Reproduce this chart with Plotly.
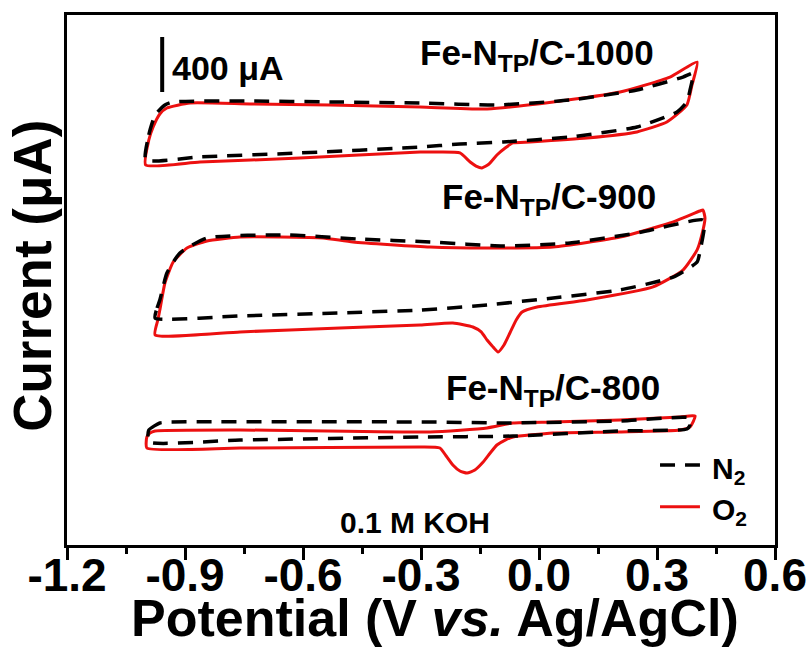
import plotly.graph_objects as go

# ---- data: potential (V vs Ag/AgCl) and offset current (uA) ----
v1000_o2 = [-1.0, -0.992, -0.981, -0.964, -0.946, -0.887, -0.735, -0.531, -0.302, -0.132, 0.036, 0.206, 0.333, 0.402,
            0.389, 0.376, 0.325, 0.249, 0.122, -0.023, -0.066, -0.086, -0.107, -0.127, -0.145, -0.160, -0.175, -0.201,
            -0.252, -0.302, -0.608, -0.862, -1.0]
i1000_o2 = [2763, 2944, 3039, 3133, 3177, 3213, 3206, 3199, 3184, 3170, 3221, 3293, 3402, 3511,
            3344, 3199, 3075, 3003, 2959, 2930, 2923, 2886, 2835, 2770, 2741, 2755, 2784, 2850,
            2857, 2857, 2813, 2784, 2763]
v1000_n2 = [-1.0, -0.992, -0.976, -0.951, -0.930, -0.735, -0.531, -0.302, -0.107, 0.079, 0.249, 0.366, 0.392,
            0.384, 0.376, 0.351, 0.249, 0.079, -0.091, -0.201, -0.302, -0.608, -0.862, -1.0]
i1000_n2 = [2799, 2981, 3126, 3199, 3221, 3228, 3221, 3213, 3199, 3235, 3308, 3402, 3431,
            3308, 3221, 3148, 3039, 2966, 2930, 2915, 2893, 2850, 2821, 2799]

v900_o2 = [-0.976, -0.969, -0.964, -0.951, -0.930, -0.895, -0.844, -0.760, -0.658, -0.549, -0.473, -0.277, -0.132,
           0.036, 0.206, 0.333, 0.409, 0.417, 0.422, 0.414, 0.402, 0.366, 0.290, 0.122, -0.005, -0.043, -0.058,
           -0.074, -0.089, -0.104, -0.119, -0.132, -0.147, -0.168, -0.219, -0.302, -0.506, -0.760, -0.976]
i900_o2 = [1527, 1636, 1708, 1905, 2057, 2159, 2210, 2239, 2239, 2232, 2203, 2166, 2159,
           2166, 2239, 2341, 2428, 2435, 2377, 2254, 2145, 1999, 1876, 1781, 1730, 1694, 1636,
           1541, 1454, 1403, 1447, 1490, 1549, 1585, 1614, 1599, 1578, 1549, 1527]
v900_n2 = [-0.976, -0.971, -0.964, -0.946, -0.913, -0.844, -0.641, -0.463, -0.277, -0.091, 0.079, 0.249, 0.417,
           0.420, 0.417, 0.410, 0.402, 0.341, 0.206, 0.036, -0.132, -0.302, -0.506, -0.760, -0.976]
i900_n2 = [1650, 1723, 1781, 1977, 2123, 2232, 2254, 2225, 2203, 2174, 2196, 2268, 2363,
           2305, 2246, 2145, 2057, 1948, 1854, 1796, 1745, 1708, 1687, 1665, 1650]

v800_o2 = [-0.997, -0.997, -0.989, -0.976, -0.760, -0.277, -0.132, -0.066, 0.036, 0.206, 0.359, 0.397,
           0.384, 0.359, 0.206, 0.036, -0.066, -0.086, -0.107, -0.124, -0.142, -0.163, -0.183, -0.201,
           -0.219, -0.236, -0.252, -0.302, -0.760, -0.997]
i800_o2 = [705, 785, 814, 829, 836, 822, 851, 887, 894, 909, 931, 938,
           858, 836, 822, 814, 785, 763, 727, 669, 603, 545, 523, 538,
           582, 647, 705, 712, 705, 705]
v800_n2 = [-0.992, -0.992, -0.964, -0.938, -0.277, -0.091, 0.206, 0.384, 0.384, 0.376, 0.206, -0.066, -0.302,
           -0.760, -0.992]
i800_n2 = [749, 836, 887, 894, 894, 887, 901, 923, 872, 843, 829, 792, 785, 763, 749]

sample_labels = ["Fe-N<sub>TP</sub>/C-1000", "Fe-N<sub>TP</sub>/C-900", "Fe-N<sub>TP</sub>/C-800"]
legend_labels = ["N<sub>2</sub>", "O<sub>2</sub>"]
x_ticks = [-1.2, -0.9, -0.6, -0.3, 0.0, 0.3, 0.6]
x_ticktext = ["-1.2", "-0.9", "-0.6", "-0.3", "0.0", "0.3", "0.6"]
scale_bar_uA = 400

FONT = "Liberation Sans"
RED = "#ec1010"
N2_DASH = "15px,10px"

fig = go.Figure()
o2_sets = [(v1000_o2, i1000_o2), (v900_o2, i900_o2), (v800_o2, i800_o2)]
n2_sets = [(v1000_n2, i1000_n2), (v900_n2, i900_n2), (v800_n2, i800_n2)]
for v, i in o2_sets:
    fig.add_trace(go.Scatter(x=v, y=i, mode="lines", name="O2", showlegend=False,
                             line=dict(color=RED, width=3, shape="spline", smoothing=0.5)))
for v, i in n2_sets:
    fig.add_trace(go.Scatter(x=v, y=i, mode="lines", name="N2", showlegend=False,
                             line=dict(color="black", width=3.5, dash=N2_DASH, shape="spline", smoothing=0.5)))

# scale bar
bar_x = -0.958
bar_y0 = 3293
fig.add_shape(type="line", x0=bar_x, x1=bar_x, y0=bar_y0, y1=bar_y0 + scale_bar_uA,
              line=dict(color="black", width=4))

def bold(size):
    return dict(family=FONT, size=size, color="black", weight="bold")

# manual legend (line samples + labels)
for (ly, ty), lab, sty in zip([(0.151, 0.140), (0.072, 0.064)], legend_labels,
                              [dict(color="black", width=3.5, dash=N2_DASH), dict(color=RED, width=3)]):
    fig.add_shape(type="line", xref="paper", yref="paper", x0=0.8376, x1=0.894, y0=ly, y1=ly, line=sty)
    fig.add_annotation(text=lab, x=0.908, y=ty, xref="paper", yref="paper", xanchor="left",
                       yanchor="middle", showarrow=False, font=bold(30))

fig.add_annotation(text=f"{scale_bar_uA} μA", x=0.1455, y=0.90, xref="paper", yref="paper",
                   xanchor="left", yanchor="middle", showarrow=False, font=bold(34))
for txt, (xp, yp) in zip(sample_labels, [(0.664, 0.925), (0.681, 0.652), (0.687, 0.293)]):
    fig.add_annotation(text=txt, x=xp, y=yp, xref="paper", yref="paper",
                       xanchor="center", yanchor="middle", showarrow=False, font=bold(35))
fig.add_annotation(text="0.1 M KOH", x=0.4915, y=0.043, xref="paper", yref="paper",
                   xanchor="center", yanchor="middle", showarrow=False, font=bold(30))
# axis titles
fig.add_annotation(text="Potential (V <i>vs.</i> Ag/AgCl)", x=0.520, y=-0.138, xref="paper", yref="paper",
                   xanchor="center", yanchor="middle", showarrow=False, font=bold(52))
fig.add_annotation(text="Current (μA)", x=-0.048, y=0.508, xref="paper", yref="paper", textangle=-90,
                   xanchor="center", yanchor="middle", showarrow=False, font=bold(53))

fig.update_layout(
    width=810, height=651,
    margin=dict(l=67, r=35, t=15, b=106),
    paper_bgcolor="white", plot_bgcolor="white",
    font=dict(family=FONT, color="black"),
    showlegend=False,
    xaxis=dict(range=[-1.2, 0.6], tickvals=x_ticks, ticktext=x_ticktext, automargin=False,
               ticks="outside", ticklen=12, tickwidth=2.5, tickcolor="black", ticklabelstandoff=-24,
               minor=dict(dtick=0.15, tick0=-1.2, ticks="outside", ticklen=6, tickwidth=2.5, tickcolor="black"),
               showline=True, linewidth=2.5, linecolor="black", mirror=True,
               showgrid=False, zeroline=False, tickfont=bold(46)),
    yaxis=dict(range=[0, 3853], showticklabels=False, ticks="", automargin=False,
               showline=True, linewidth=2.5, linecolor="black", mirror=True,
               showgrid=False, zeroline=False),
)

fig.write_html("out.html")
